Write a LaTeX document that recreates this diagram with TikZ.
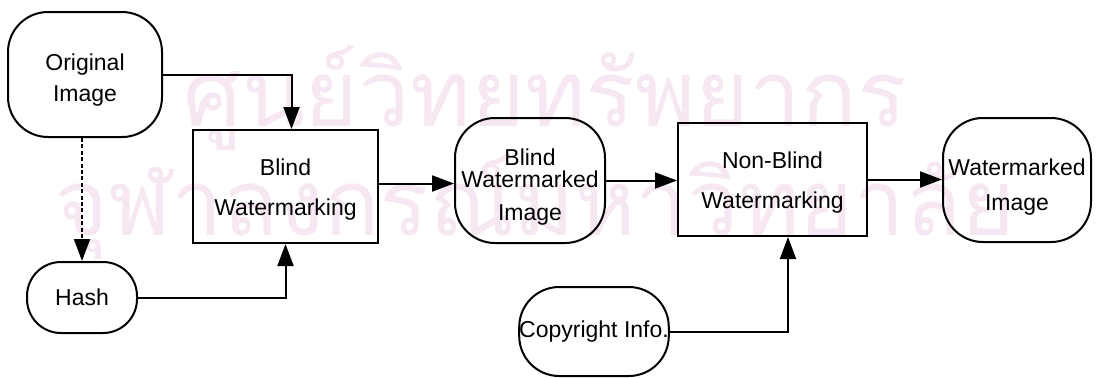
\documentclass[tikz,border=0pt]{standalone}
\usepackage{fontspec}
\setmainfont{Liberation Sans}
\newfontfamily\thaifont[Script=Thai]{Loma}
\usepackage{tikz}
\usetikzlibrary{arrows.meta,calc,positioning}
\definecolor{thpink}{RGB}{246,231,242}
\newcommand{\tstrut}[1]{\rule{0pt}{#1}}

\begin{document}
\begin{tikzpicture}[
		x=0.5pt, y=-0.5pt,
		rnd/.style={draw, line width=1pt, rounded corners=20pt, align=center, inner sep=0pt,
			font=\fontsize{11.5}{15.5}\selectfont},
		blk/.style={draw, line width=1pt, align=center, inner sep=0pt,
			font=\fontsize{11.5}{15.5}\selectfont},
		arr/.style={-{Triangle[length=11pt,width=8pt]}, line width=1pt},
		wmark/.style={text=thpink, anchor=base, inner sep=0pt,
			font=\thaifont\fontsize{46}{46}\selectfont}
		]
	\useasboundingbox (0,0) rectangle (1098,377);

		% --- fond (filigrane) ---
		\node[wmark] (wm1) at (545,126) {ศูนย์วิทยทรัพยากร};
		\node[wmark] (wm2) at (535,235) {จุฬาลงกรณ์มหาวิทยาลัย};

		% --- blocs ---
		\node[rnd, minimum width=77pt, minimum height=62.5pt] (orig) at (85,74.5) {\tstrut{13.5pt}Original\\Image};
		\node[rnd, rounded corners=17pt, minimum width=55pt, minimum height=35.5pt] (hash) at (82,297.5) {Hash};
		\node[blk, minimum width=92.5pt, minimum height=56.5pt] (blind) at (285.5,186.5) {\tstrut{11pt}Blind\\[4.5pt]Watermarking};
		\node[rnd, minimum width=75pt, minimum height=62.5pt] (bwm) at (530,180.5) {\tstrut{14.5pt}Blind\\[-4.5pt]Watermarked\\[1pt]Image};
		\node[blk, minimum width=94.5pt, minimum height=56.5pt] (nonblind) at (772.5,179.5) {\tstrut{11pt}Non-Blind\\[4.5pt]Watermarking};
		\node[rnd, minimum width=74pt, minimum height=62pt] (wm) at (1017,180) {\tstrut{15pt}Watermarked\\[2pt]Image};
		\node[rnd, minimum width=74pt, minimum height=44.5pt] (copy) at (594,331.5) {Copyright Info.};

		% --- fleches ---
		\draw[arr] (orig.east) -| ([xshift=3pt]blind.north);
		\draw[arr] (hash.east) -| (blind.south);
		\draw[arr, dash pattern=on 2pt off 1.2pt] (hash.north |- orig.south) -- (hash.north);
		\draw[arr] ([yshift=-1.5pt]blind.east |- bwm.west) -- ([yshift=-1.5pt]bwm.west);
		\draw[arr] (bwm.east) -- (bwm.east -| nonblind.west);
		\draw[arr] (nonblind.east) -- (nonblind.east -| wm.west);
		\draw[arr] (copy.east) -| ([xshift=7.75pt]nonblind.south);

	\end{tikzpicture}
\end{document}
